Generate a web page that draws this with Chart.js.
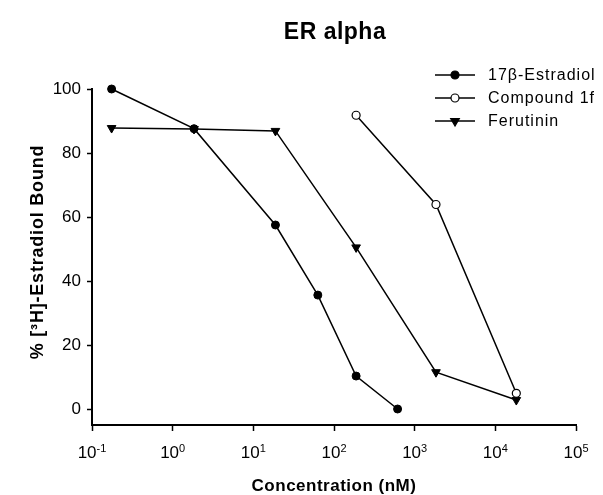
<!DOCTYPE html>
<html lang="en">

<head>
    <meta charset="UTF-8">
    <title>ER alpha</title>
    <script src="https://cdn.jsdelivr.net/npm/chart.js"></script>
    <style>
        html, body { margin: 0; padding: 0; background: white; overflow: hidden; }
        #box { width: 603px; height: 495px; }
    </style>
</head>

<body>
    <div id="box">
        <canvas id="grafico"></canvas>
    </div>
</body>

</html>
<script>

    // dados
    const serieNomes = ["17\u03b2-Estradiol", "Compound 1f", "Ferutinin"];

    const concEstradiol = [0.175, 1.84, 18.8, 63, 188, 614];
    const boundEstradiol = [100, 87.6, 57.5, 35.6, 10.3, 0];

    const concCompound = [188, 1837, 18200];
    const boundCompound = [91.8, 63.9, 4.9];

    const concFerutinin = [0.175, 1.84, 18.8, 188, 1837, 18200];
    const boundFerutinin = [87.8, 87.5, 86.9, 50.5, 11.5, 2.8];

    const xExpoentes = [-1, 0, 1, 2, 3, 4, 5];
    const yTicks = [0, 20, 40, 60, 80, 100];

    const tituloGrafico = "ER alpha";
    const tituloX = "Concentration (nM)";
    const tituloY = "% [\u00b3H]-Estradiol Bound";

    const FONTE = "'Liberation Sans', Arial, sans-serif";

    const pares = (xs, ys) => xs.map((x, i) => ({ x: x, y: ys[i] }));

    // titulo, nomes dos eixos, rotulos 10^n e legenda desenhados a mao
    const textos = {
        id: "textos",
        afterDraw(chart) {
            const c = chart.ctx;
            const area = chart.chartArea;
            const meio = (area.left + area.right) / 2;
            c.save();
            c.fillStyle = "black";
            c.textAlign = "center";
            c.textBaseline = "middle";

            c.font = "bold 23px " + FONTE;
            c.letterSpacing = "0.5px";
            c.fillText(tituloGrafico, meio + 1, 33);

            c.font = "bold 17px " + FONTE;
            c.fillText(tituloX, meio, 486);

            c.save();
            c.translate(38, 252);
            c.rotate(-Math.PI / 2);
            c.font = "bold 18px " + FONTE;
            c.letterSpacing = "0.8px";
            c.fillText(tituloY, 0, 0);
            c.restore();

            // rotulos do eixo x: 10 com expoente
            c.letterSpacing = "0px";
            c.textAlign = "left";
            c.textBaseline = "alphabetic";
            xExpoentes.forEach(e => {
                const px = chart.scales.x.getPixelForValue(Math.pow(10, e));
                c.font = "17px " + FONTE;
                const wb = c.measureText("10").width;
                c.font = "11px " + FONTE;
                const we = c.measureText(String(e)).width;
                const x0 = px - (wb + we) / 2;
                c.font = "17px " + FONTE;
                c.fillText("10", x0, 458);
                c.font = "11px " + FONTE;
                c.fillText(String(e), x0 + wb, 452);
            });

            // legenda
            c.textBaseline = "middle";
            c.font = "16px " + FONTE;
            c.letterSpacing = "1px";
            chart.data.datasets.forEach((ds, i) => {
                const y = 75 + i * 23;
                c.strokeStyle = "black";
                c.lineWidth = 1.5;
                c.beginPath();
                c.moveTo(435, y);
                c.lineTo(475, y);
                c.stroke();
                c.fillStyle = ds.pointBackgroundColor;
                c.strokeStyle = "black";
                c.lineWidth = 1.2;
                Chart.helpers.drawPoint(c, {
                    pointStyle: ds.pointStyle,
                    radius: ds.pointRadius,
                    rotation: ds.pointRotation || 0,
                    borderWidth: 1.2
                }, 455, y);
                c.fillStyle = "black";
                c.fillText(ds.label, 488, y + 1);
            });
            c.restore();
        }
    };

    const ctx = document.getElementById("grafico").getContext("2d");

    const grafico1 = new Chart(ctx, {
        type: "line",
        data: {
            datasets: [{
                label: serieNomes[0],
                data: pares(concEstradiol, boundEstradiol),
                borderColor: "black",
                borderWidth: 1.5,
                clip: false,
                pointStyle: "circle",
                pointRadius: 4,
                pointBackgroundColor: "black",
                pointBorderColor: "black",
                pointBorderWidth: 1
            }, {
                label: serieNomes[1],
                data: pares(concCompound, boundCompound),
                borderColor: "black",
                borderWidth: 1.5,
                clip: false,
                pointStyle: "circle",
                pointRadius: 4,
                pointBackgroundColor: "white",
                pointBorderColor: "black",
                pointBorderWidth: 1.2
            }, {
                label: serieNomes[2],
                data: pares(concFerutinin, boundFerutinin),
                borderColor: "black",
                borderWidth: 1.5,
                clip: false,
                pointStyle: "triangle",
                pointRotation: 180,
                pointRadius: 5,
                pointBackgroundColor: "black",
                pointBorderColor: "black",
                pointBorderWidth: 1
            }]
        },
        options: {
            responsive: true,
            maintainAspectRatio: false,
            animation: false,
            events: [],
            layout: {
                padding: { top: 89, right: 27, left: 0, bottom: 0 }
            },
            scales: {
                x: {
                    type: "logarithmic",
                    min: 0.1,
                    max: 100000,
                    afterBuildTicks: s => { s.ticks = xExpoentes.map(e => ({ value: Math.pow(10, e) })); },
                    afterFit: s => { s.height = 70; },
                    ticks: {
                        autoSkip: false,
                        maxRotation: 0,
                        color: "rgba(0,0,0,0)",
                        font: { family: FONTE, size: 16 },
                        callback: v => "10"
                    },
                    grid: {
                        drawOnChartArea: false,
                        drawTicks: true,
                        tickLength: 6,
                        tickWidth: 1.5,
                        color: "black"
                    },
                    border: { display: true, color: "black", width: 2 }
                },
                y: {
                    min: -5,
                    max: 100,
                    afterBuildTicks: s => { s.ticks = yTicks.map(v => ({ value: v })); },
                    afterFit: s => { s.width = 92; },
                    ticks: {
                        color: "black",
                        padding: 6,
                        font: { family: FONTE, size: 17 }
                    },
                    grid: {
                        drawOnChartArea: false,
                        drawTicks: true,
                        tickLength: 5,
                        tickWidth: 1.5,
                        color: "black"
                    },
                    border: { display: true, color: "black", width: 2 }
                }
            },
            plugins: {
                legend: { display: false },
                title: { display: false },
                tooltip: { enabled: false }
            }
        },
        plugins: [textos]
    });

</script>
